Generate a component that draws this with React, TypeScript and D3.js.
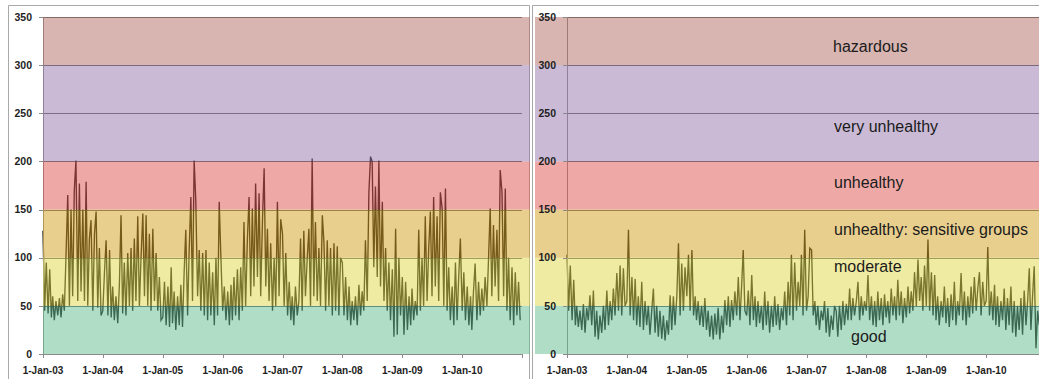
import React from 'react';
import * as d3 from 'd3';

// daily index sampled every ~10 days (1st, 11th, 21st of each month), 2003-2010
const leftSeries = [
  128, 45, 95, 42, 88, 38, 60, 35, 55, 40, 58, 38, 62, 45, 100, 165, 50, 150, 60, 170, 201, 55, 177, 65, 150, 55, 179, 50, 120, 139, 45, 125, 148, 48, 110, 40,
  45, 85, 118, 40, 108, 38, 70, 35, 60, 32, 72, 144, 42, 95, 40, 105, 50, 110, 45, 120, 55, 143, 50, 100, 146, 60, 144, 50, 125, 45, 130, 55, 105, 45, 80, 35,
  38, 75, 30, 70, 28, 90, 32, 65, 25, 60, 30, 72, 28, 85, 129, 40, 110, 163, 55, 201, 160, 60, 108, 45, 105, 40, 108, 35, 95, 40, 85, 30, 100, 40, 158, 101,
  45, 70, 35, 65, 30, 72, 35, 80, 40, 88, 35, 90, 45, 137, 50, 120, 163, 60, 151, 70, 177, 80, 167, 60, 140, 193, 70, 130, 55, 115, 45, 100, 50, 158, 60, 140,
  125, 50, 105, 40, 75, 35, 60, 30, 70, 40, 55, 120, 45, 128, 60, 100, 130, 50, 203, 60, 137, 55, 110, 50, 144, 115, 45, 118, 50, 110, 40, 115, 45, 112, 40, 100,
  95, 40, 80, 35, 70, 30, 55, 35, 60, 30, 72, 40, 65, 45, 118, 55, 168, 205, 200, 90, 174, 80, 201, 70, 158, 55, 110, 45, 95, 35, 88, 18, 130, 20, 100, 40,
  80, 20, 75, 25, 60, 30, 68, 35, 55, 40, 129, 45, 100, 50, 143, 55, 110, 148, 60, 163, 70, 143, 55, 168, 151, 50, 172, 45, 90, 35, 70, 30, 95, 35, 80, 120,
  45, 85, 35, 70, 30, 60, 25, 65, 94, 35, 75, 40, 68, 45, 80, 50, 100, 151, 60, 134, 70, 129, 55, 191, 168, 60, 172, 45, 100, 35, 90, 30, 85, 40, 75, 35,
];

const rightSeries = [
  103, 45, 92, 35, 77, 30, 50, 28, 45, 25, 52, 22, 48, 35, 61, 30, 66, 18, 45, 15, 40, 22, 50, 25, 66, 30, 55, 35, 68, 40, 84, 45, 92, 40, 89, 50,
  55, 129, 40, 80, 35, 78, 30, 60, 28, 75, 25, 55, 30, 50, 20, 45, 68, 22, 50, 18, 45, 16, 40, 14, 35, 20, 61, 25, 60, 30, 60, 115, 40, 94, 45, 90,
  60, 103, 45, 108, 40, 60, 35, 55, 30, 50, 28, 58, 25, 45, 18, 40, 15, 42, 20, 48, 15, 40, 22, 56, 30, 60, 28, 56, 35, 65, 40, 80, 35, 70, 108, 45,
  40, 66, 30, 82, 35, 60, 28, 55, 32, 50, 25, 65, 30, 55, 22, 50, 28, 60, 30, 52, 25, 48, 35, 65, 30, 75, 40, 103, 35, 95, 45, 75, 50, 103, 40, 129,
  45, 60, 110, 108, 40, 55, 30, 50, 25, 45, 35, 55, 22, 48, 18, 40, 25, 50, 45, 18, 50, 25, 55, 30, 52, 35, 68, 35, 58, 40, 55, 75, 35, 60, 40, 55,
  45, 82, 35, 60, 30, 55, 28, 65, 35, 58, 30, 62, 38, 55, 32, 68, 40, 60, 35, 77, 40, 65, 32, 58, 38, 70, 42, 65, 45, 85, 50, 98, 55, 80, 45, 92,
  50, 119, 45, 85, 40, 82, 35, 60, 30, 55, 38, 70, 32, 58, 28, 62, 35, 75, 30, 55, 40, 84, 35, 65, 30, 60, 38, 70, 42, 80, 45, 68, 85, 40, 75, 50,
  55, 111, 40, 65, 35, 72, 30, 60, 28, 55, 35, 68, 25, 58, 30, 70, 22, 55, 18, 50, 25, 58, 20, 66, 30, 55, 89, 25, 60, 91, 6, 45, 30, 60, 35, 50,
];

const bandEdges = [0, 50, 100, 150, 200, 300, 350];
const bandColors = ['#61bb8d', '#dfd747', '#d39f1d', '#dd534f', '#9575ad', '#b16b61'];
const bandLabels = ['good', 'moderate', 'unhealthy: sensitive groups', 'unhealthy', 'very unhealthy', 'hazardous'];
const yTicks = [0, 50, 100, 150, 200, 250, 300, 350];

const startDate = new Date(2003, 0, 1);
const endDate = new Date(2011, 0, 1);

// one date per sample: the 1st, 11th and 21st of every month
const sampleDates = leftSeries.map((_, i) => {
  const year = 2003 + Math.floor(i / 36);
  const k = i % 36;
  return new Date(year, Math.floor(k / 3), 1 + 10 * (k % 3));
});

const y = d3.scaleLinear().domain([0, 350]).range([354, 17]);
const fmt = d3.timeFormat('%-d-%b-%y');
const tickFont = '"Liberation Sans", Arial, sans-serif';

// label anchors in the right panel (value of baseline, x)
const labelAnchor = [
  { v: 12, x: 851 },
  { v: 85, x: 834 },
  { v: 123.5, x: 834 },
  { v: 172, x: 834 },
  { v: 231, x: 834 },
  { v: 313.5, x: 833 },
];

function Panel({ plotLeft, bandX0, bandX1, series, showLabels }) {
  const x = d3.scaleTime().domain([startDate, endDate]).range([plotLeft, plotLeft + 479]);
  const line = d3.line<number>()
    .x((d, i) => x(sampleDates[i]))
    .y(d => y(d));
  const years = d3.timeYear.range(startDate, d3.timeDay.offset(endDate, 1));
  const plotRight = plotLeft + 479;

  return (
    <g>
      {/* gridlines */}
      {yTicks.filter(t => t > 0).map(t => (
        <line key={t} x1={plotLeft} x2={plotRight} y1={Math.round(y(t)) + 0.5} y2={Math.round(y(t)) + 0.5}
          stroke="#5f6668" strokeWidth={1} />
      ))}
      {/* series */}
      <path d={line(series) || ''} fill="none" stroke="#161414" strokeWidth={1.35} strokeLinejoin="miter" />
      {/* y axis line */}
      <line x1={plotLeft + 0.5} x2={plotLeft + 0.5} y1={17} y2={354} stroke="#8a8a8a" />
      {/* coloured AQI bands */}
      {bandColors.map((c, i) => (
        <rect key={i} x={bandX0} width={bandX1 - bandX0}
          y={y(bandEdges[i + 1])} height={y(bandEdges[i]) - y(bandEdges[i + 1])}
          fill={c} fillOpacity={0.5} />
      ))}
      {/* y ticks */}
      {yTicks.map(t => (
        <g key={t}>
          <line x1={plotLeft - 4} x2={plotLeft} y1={Math.round(y(t)) + 0.5} y2={Math.round(y(t)) + 0.5} stroke="#8a8a8a" />
          <text x={plotLeft - 11} y={y(t)} dy="0.35em" textAnchor="end"
            fontFamily={tickFont} fontWeight={700} fontSize={10.5} fill="#1e1e1e">{t}</text>
        </g>
      ))}
      {/* x axis */}
      <line x1={plotLeft} x2={plotRight} y1={354.5} y2={354.5} stroke="#8a8a8a" />
      {years.map((d, i) => (
        <g key={i}>
          <line x1={Math.round(x(d)) + 0.5} x2={Math.round(x(d)) + 0.5} y1={354} y2={358} stroke="#8a8a8a" />
          {d < endDate && (
            <text x={x(d)} y={374} textAnchor="middle" fontFamily={tickFont} fontWeight={700}
              fontSize={10} fill="#1e1e1e">{fmt(d)}</text>
          )}
        </g>
      ))}
      {showLabels && bandLabels.map((lab, i) => (
        <text key={lab} x={labelAnchor[i].x} y={y(labelAnchor[i].v)} fontFamily='"Liberation Sans", Arial, sans-serif'
          fontSize={16} fill="#1b1b1b">{lab}</text>
      ))}
    </g>
  );
}

export default function App() {
  return (
    <svg width={1039} height={379} style={{ position: 'absolute', left: 0, top: 0, background: '#fff' }}>
      <rect x={0} y={0} width={1039} height={379} fill="#fff" />
      {/* chart frames */}
      <path d="M8.5,379 V5.5 H529.5 V379" fill="none" stroke="#a9a9a9" />
      <path d="M532.5,379 V5.5 H1039" fill="none" stroke="#a9a9a9" />
      <Panel plotLeft={43} bandX0={43} bandX1={530} series={leftSeries} showLabels={false} />
      <Panel plotLeft={567} bandX0={535} bandX1={1039} series={rightSeries} showLabels={true} />
    </svg>
  );
}
